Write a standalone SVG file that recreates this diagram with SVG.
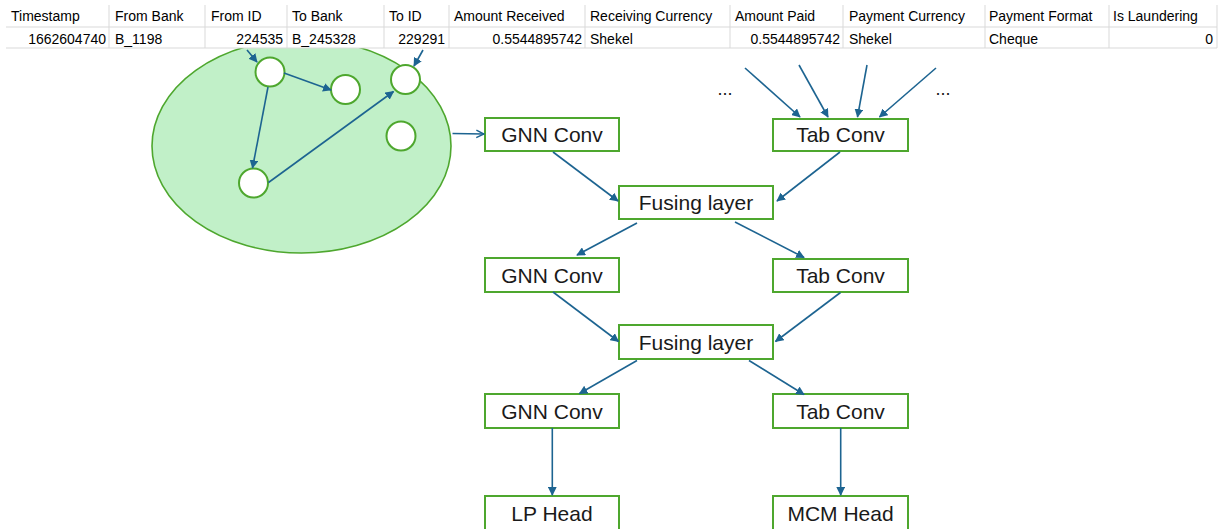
<svg xmlns="http://www.w3.org/2000/svg" width="1225" height="529" viewBox="0 0 1225 529">
<style>
.th{font-family:"Liberation Sans",Arial,sans-serif;font-size:14px;fill:#000}
.r{text-anchor:end}
.grid{stroke:#d9d9d9;stroke-width:1}
.box{fill:#fff;stroke:#4ea72e;stroke-width:2}
.lbl{font-family:"Liberation Sans",Arial,sans-serif;font-size:21px;fill:#1a1a1a;text-anchor:middle}
.c{stroke:#1d6491;stroke-width:1.6;fill:none;marker-end:url(#ah)}
.co{stroke:#1d6491;stroke-width:1.6;fill:none;marker-end:url(#ao)}
.nd{fill:#fff;stroke:#4ea72e;stroke-width:2}
.dots{font-family:"Liberation Sans",Arial,sans-serif;font-size:18px;fill:#1a1a1a;text-anchor:middle}
</style>
<defs>
<marker id="ah" viewBox="0 0 10 10" refX="9" refY="5" markerWidth="5.5" markerHeight="5.5" orient="auto" markerUnits="strokeWidth">
<path d="M0,0 L10,5 L0,10 z" fill="#1d6491"/>
</marker>
<marker id="ao" viewBox="0 0 10 10" refX="9" refY="5" markerWidth="6" markerHeight="6" orient="auto" markerUnits="strokeWidth">
<path d="M1,1 L9,5 L1,9" fill="none" stroke="#1d6491" stroke-width="1.5"/>
</marker>
</defs>
<rect width="1225" height="529" fill="#fff"/>

<g id="graph-ellipse">
<ellipse cx="301.5" cy="146" rx="149.5" ry="107" fill="#c1f0c8" stroke="#4ea72e" stroke-width="1.6"/>
</g>

<g id="table">
<rect x="6" y="5" width="1211" height="43" fill="#fff"/>
<g class="grid">
<line x1="6" y1="27" x2="1217" y2="27"/>
<line x1="6" y1="48" x2="1217" y2="48"/>
<line x1="109" y1="5" x2="109" y2="48"/>
<line x1="205" y1="5" x2="205" y2="48"/>
<line x1="287" y1="5" x2="287" y2="48"/>
<line x1="384" y1="5" x2="384" y2="48"/>
<line x1="449" y1="5" x2="449" y2="48"/>
<line x1="585" y1="5" x2="585" y2="48"/>
<line x1="730" y1="5" x2="730" y2="48"/>
<line x1="843" y1="5" x2="843" y2="48"/>
<line x1="985" y1="5" x2="985" y2="48"/>
<line x1="1109" y1="5" x2="1109" y2="48"/>
<line x1="1217" y1="5" x2="1217" y2="48"/>
</g>
<text class="th" x="11" y="21">Timestamp</text>
<text class="th" x="115" y="21">From Bank</text>
<text class="th" x="211" y="21">From ID</text>
<text class="th" x="292" y="21">To Bank</text>
<text class="th" x="389" y="21">To ID</text>
<text class="th" x="454" y="21">Amount Received</text>
<text class="th" x="590" y="21">Receiving Currency</text>
<text class="th" x="735" y="21">Amount Paid</text>
<text class="th" x="849" y="21">Payment Currency</text>
<text class="th" x="989" y="21">Payment Format</text>
<text class="th" x="1113" y="21">Is Laundering</text>
<text class="th r" x="106" y="44">1662604740</text>
<text class="th" x="115" y="44">B_1198</text>
<text class="th r" x="283" y="44">224535</text>
<text class="th" x="292" y="44">B_245328</text>
<text class="th r" x="445" y="44">229291</text>
<text class="th r" x="582" y="44">0.5544895742</text>
<text class="th" x="590" y="44">Shekel</text>
<text class="th r" x="840" y="44">0.5544895742</text>
<text class="th" x="849" y="44">Shekel</text>
<text class="th" x="989" y="44">Cheque</text>
<text class="th r" x="1213" y="44">0</text>
</g>

<g id="graph-nodes">
<circle id="n1" class="nd" cx="270" cy="72" r="14.5"/>
<circle id="n2" class="nd" cx="345.5" cy="89.5" r="14.5"/>
<circle id="n3" class="nd" cx="405.5" cy="79.5" r="14.5"/>
<circle id="n4" class="nd" cx="401" cy="136" r="14.5"/>
<circle id="n5" class="nd" cx="253.5" cy="183" r="14.5"/>
</g>

<g id="gnn1"><rect class="box" x="485" y="118" width="134" height="33"/><text class="lbl" x="552" y="142">GNN Conv</text></g>
<g id="tab1"><rect class="box" x="773" y="119" width="135" height="32"/><text class="lbl" x="840.5" y="142">Tab Conv</text></g>
<g id="fuse1"><rect class="box" x="619" y="186" width="154" height="33"/><text class="lbl" x="696" y="210">Fusing layer</text></g>
<g id="gnn2"><rect class="box" x="485" y="258" width="134" height="34"/><text class="lbl" x="552" y="283">GNN Conv</text></g>
<g id="tab2"><rect class="box" x="773" y="259" width="135" height="33"/><text class="lbl" x="840.5" y="283">Tab Conv</text></g>
<g id="fuse2"><rect class="box" x="619" y="325" width="154" height="34"/><text class="lbl" x="696" y="350">Fusing layer</text></g>
<g id="gnn3"><rect class="box" x="485" y="394" width="134" height="34"/><text class="lbl" x="552" y="419">GNN Conv</text></g>
<g id="tab3"><rect class="box" x="773" y="394" width="135" height="34"/><text class="lbl" x="840.5" y="419">Tab Conv</text></g>
<g id="lp"><rect class="box" x="485" y="496" width="134" height="36"/><text class="lbl" x="552" y="521">LP Head</text></g>
<g id="mcm"><rect class="box" x="773" y="496" width="135" height="36"/><text class="lbl" x="840.5" y="521">MCM Head</text></g>

<g id="ellipsis">
<text class="dots" x="725" y="95">...</text>
<text class="dots" x="943" y="95">...</text>
</g>

<g id="connectors">
<line class="c" x1="247" y1="50" x2="257" y2="62"/>
<line class="c" x1="423" y1="50" x2="414" y2="66"/>
<line class="c" x1="284" y1="73" x2="331" y2="90"/>
<line class="c" x1="268" y1="87" x2="252.5" y2="168"/>
<line class="c" x1="268.5" y1="182.5" x2="393.5" y2="91.5"/>
<line class="co" x1="452.5" y1="133.5" x2="484" y2="134"/>
<line class="c" x1="745" y1="68" x2="800" y2="117"/>
<line class="c" x1="799" y1="65" x2="828" y2="117"/>
<line class="c" x1="867" y1="65" x2="857.5" y2="117"/>
<line class="c" x1="936" y1="68" x2="879.5" y2="117"/>
<line class="c" x1="553" y1="152" x2="618" y2="201"/>
<line class="c" x1="840" y1="152" x2="777" y2="201"/>
<line class="c" x1="637" y1="223" x2="577" y2="255"/>
<line class="c" x1="735" y1="222" x2="804" y2="257.5"/>
<line class="c" x1="553" y1="292" x2="618.5" y2="341.5"/>
<line class="c" x1="840.5" y1="292.5" x2="775.5" y2="341.5"/>
<line class="c" x1="637" y1="360.5" x2="579.5" y2="393.5"/>
<line class="c" x1="749" y1="360.5" x2="804" y2="394.5"/>
<line class="c" x1="552.3" y1="428" x2="552.3" y2="495"/>
<line class="c" x1="840.7" y1="428" x2="840.7" y2="495"/>
</g>
</svg>
